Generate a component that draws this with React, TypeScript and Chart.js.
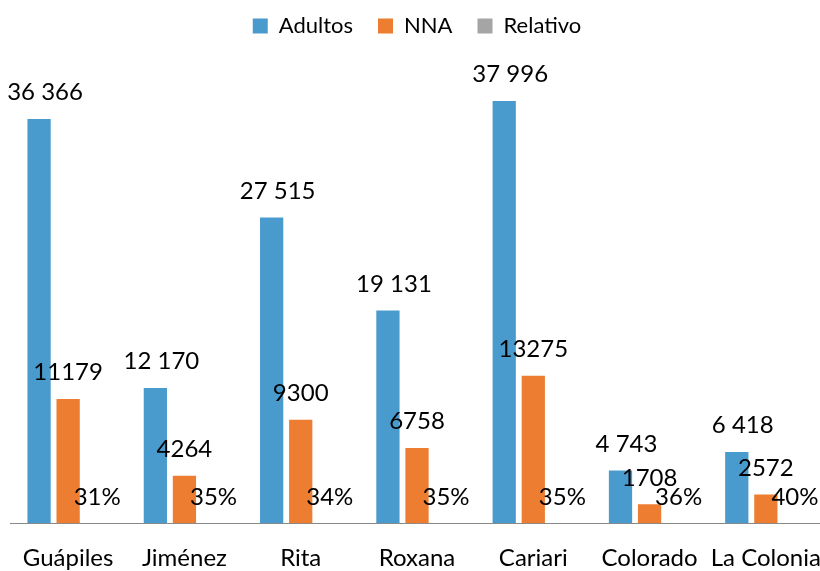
import React, { useEffect, useRef } from 'react';
import { Chart, registerables } from 'chart.js';

Chart.register(...registerables);

const categories = ['Guápiles', 'Jiménez', 'Rita', 'Roxana', 'Cariari', 'Colorado', 'La Colonia'];
const seriesNames = ['Adultos', 'NNA', 'Relativo'];
const adultos = [36366, 12170, 27515, 19131, 37996, 4743, 6418];
const nna = [11179, 4264, 9300, 6758, 13275, 1708, 2572];
const relativo = [0.31, 0.35, 0.34, 0.35, 0.35, 0.36, 0.4];

const colors = ['#4A9BCD', '#ED7D31', '#A5A5A5'];
const FONT = 'Lato';

const formatters: ((v: number) => string)[] = [
  (v) => String(v).replace(/\B(?=(\d{3})+(?!\d))/g, ' '),
  (v) => String(v),
  (v) => Math.round(v * 100) + '%',
];
const labelOffsetX = [6, 0, 0];

const labelPlugin = {
  id: 'barLabels',
  afterDatasetsDraw(chart: any) {
    const ctx = chart.ctx;
    ctx.save();
    ctx.font = `24px ${FONT}`;
    ctx.fillStyle = '#000000';
    ctx.textAlign = 'center';
    ctx.textBaseline = 'alphabetic';
    chart.data.datasets.forEach((ds: any, di: number) => {
      const meta = chart.getDatasetMeta(di);
      meta.data.forEach((bar: any, i: number) => {
        const text = formatters[di](ds.data[i]);
        ctx.fillText(text, bar.x + labelOffsetX[di], bar.y - 18.6);
      });
    });
    ctx.restore();
  },
};

export default function App() {
  const ref = useRef<HTMLCanvasElement | null>(null);
  useEffect(() => {
    let chart: Chart | null = null;
    let cancelled = false;
    const make = () => {
      if (cancelled || !ref.current) return;
      chart = new Chart(ref.current, {
        type: 'bar',
        data: {
          labels: categories,
          datasets: [
            { label: seriesNames[0], data: adultos, backgroundColor: colors[0] },
            { label: seriesNames[1], data: nna, backgroundColor: colors[1] },
            { label: seriesNames[2], data: relativo, backgroundColor: colors[2] },
          ],
        },
        options: {
          responsive: false,
          animation: false,
          devicePixelRatio: 1,
          layout: { autoPadding: false, padding: { left: 10, right: 2, top: -10, bottom: -2 } },
          datasets: { bar: { categoryPercentage: 0.75, barPercentage: 0.8 } },
          plugins: {
            legend: {
              position: 'top',
              labels: {
                boxWidth: 15,
                boxHeight: 15,
                padding: 25,
                color: '#000000',
                font: { family: FONT, size: 22 },
              },
            },
            tooltip: { enabled: false },
          },
          scales: {
            x: {
              grid: { display: false, drawTicks: true, tickLength: 21 },
              border: { display: true, color: '#898989', width: 1 },
              ticks: { color: '#000000', font: { family: FONT, size: 24 }, padding: 0, maxRotation: 0 },
            },
            y: { display: false, min: 0, max: 42850 },
          },
        },
        plugins: [labelPlugin],
      });
    };
    const fonts = (document as any).fonts;
    if (fonts && fonts.load) {
      Promise.all([fonts.load(`24px ${FONT}`), fonts.load(`22px ${FONT}`)]).then(make, make);
    } else make();
    return () => {
      cancelled = true;
      if (chart) chart.destroy();
    };
  }, []);
  return (
    <div style={{ position: 'fixed', left: 0, top: 0, width: 820, height: 571, overflow: 'hidden', background: '#fff' }}>
      <div style={{ width: 826, height: 571 }}>
        <canvas ref={ref} width={826} height={571} style={{ display: 'block', width: 826, height: 571 }} />
      </div>
    </div>
  );
}
